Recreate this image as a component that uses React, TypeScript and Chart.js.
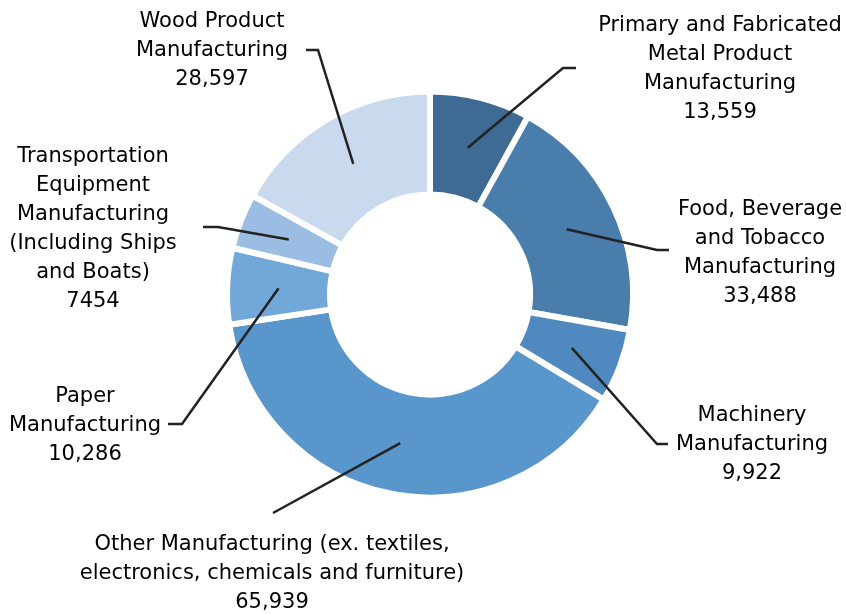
import React, { useEffect, useRef } from "react";
import { Chart, registerables } from "chart.js";

Chart.register(...registerables);

const categories: string[][] = [
  ["Primary and Fabricated", "Metal Product", "Manufacturing"],
  ["Food, Beverage", "and Tobacco", "Manufacturing"],
  ["Machinery", "Manufacturing"],
  ["Other Manufacturing (ex. textiles,", "electronics, chemicals and furniture)"],
  ["Paper", "Manufacturing"],
  ["Transportation", "Equipment", "Manufacturing", "(Including Ships", "and Boats)"],
  ["Wood Product", "Manufacturing"],
];
const values = [13559, 33488, 9922, 65939, 10286, 7454, 28597];
const valueLabels = ["13,559", "33,488", "9,922", "65,939", "10,286", "7454", "28,597"];

const colors = ["#3E6A94", "#497DAC", "#4F89BF", "#5896CC", "#72A7D9", "#9BBCE3", "#C9D9EE"];

// label layout: text block centre x, first-line centre y, leader elbow and end
const labelLayout = [
  { tx: 720, ty: 26, elbow: [563, 68], end: [576, 68] },
  { tx: 760, ty: 210, elbow: [657, 250], end: [669, 250] },
  { tx: 752, ty: 416, elbow: [657, 444], end: [668, 444] },
  { tx: 272, ty: 545, elbow: [273, 513], end: null },
  { tx: 85, ty: 397, elbow: [182, 424], end: [168, 424] },
  { tx: 93, ty: 157, elbow: [218, 227], end: [203, 227] },
  { tx: 212, ty: 22, elbow: [318, 50], end: [306, 50] },
];

const FONT = '21px "DejaVu Sans"';
const LINE_H = 29;

const labelPlugin = {
  id: "outerLabels",
  afterDatasetsDraw(chart: any) {
    const ctx = chart.ctx as CanvasRenderingContext2D;
    const meta = chart.getDatasetMeta(0);
    ctx.save();
    meta.data.forEach((arc: any, i: number) => {
      const p = arc.getProps(["x", "y", "startAngle", "endAngle", "innerRadius", "outerRadius"], true);
      const mid = (p.startAngle + p.endAngle) / 2;
      const r = (p.innerRadius + p.outerRadius) / 2;
      const sx = p.x + Math.cos(mid) * r;
      const sy = p.y + Math.sin(mid) * r;
      const L = labelLayout[i];
      ctx.strokeStyle = "#222222";
      ctx.lineWidth = 2.5;
      ctx.beginPath();
      ctx.moveTo(sx, sy);
      ctx.lineTo(L.elbow[0], L.elbow[1]);
      if (L.end) ctx.lineTo(L.end[0], L.end[1]);
      ctx.stroke();

      ctx.fillStyle = "#000";
      ctx.font = FONT;
      ctx.textAlign = "center";
      ctx.textBaseline = "middle";
      const lines = [...categories[i], valueLabels[i]];
      lines.forEach((t, k) => ctx.fillText(t, L.tx, L.ty + k * LINE_H));
    });
    ctx.restore();
  },
};

export default function App() {
  const ref = useRef<HTMLCanvasElement>(null);
  useEffect(() => {
    document.body.style.margin = "0";
    const chart = new Chart(ref.current!, {
      type: "doughnut",
      data: {
        labels: categories.map((c) => c.join(" ")),
        datasets: [
          {
            data: values,
            backgroundColor: colors,
            borderColor: "#ffffff",
            borderWidth: 6,
          },
        ],
      },
      options: {
        responsive: false,
        animation: false,
        cutout: "49.3%",
        layout: { padding: { left: 224, right: 210, top: 88.5, bottom: 113.5 } },
        plugins: { legend: { display: false }, tooltip: { enabled: false } },
      },
      plugins: [labelPlugin],
    });
    return () => chart.destroy();
  }, []);
  return (
    <div style={{ width: 846, height: 614, background: "#fff" }}>
      <canvas ref={ref} width={846} height={614} style={{ display: "block" }} />
    </div>
  );
}
